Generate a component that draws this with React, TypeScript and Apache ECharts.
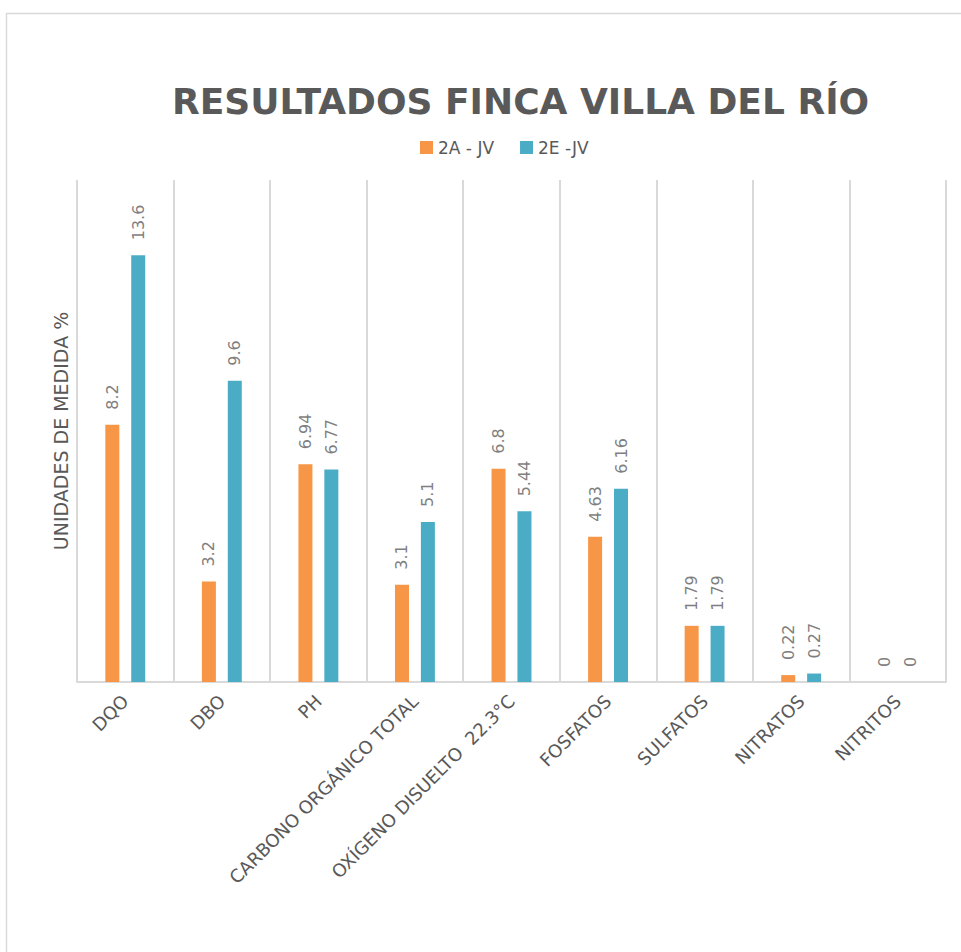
import React, { useEffect, useRef } from "react";
import * as echarts from "echarts";

const categories = [
  "DQO",
  "DBO",
  "PH",
  "CARBONO ORGÁNICO TOTAL",
  "OXÍGENO DISUELTO  22.3°C",
  "FOSFATOS",
  "SULFATOS",
  "NITRATOS",
  "NITRITOS",
];
const series2A = [8.2, 3.2, 6.94, 3.1, 6.8, 4.63, 1.79, 0.22, 0];
const series2E = [13.6, 9.6, 6.77, 5.1, 5.44, 6.16, 1.79, 0.27, 0];
const seriesNames = ["2A - JV", "2E -JV"];
const titleText = "RESULTADOS FINCA VILLA DEL RÍO";
const yAxisName = "UNIDADES DE MEDIDA %";

export default function App() {
  const ref = useRef<HTMLDivElement>(null);
  useEffect(() => {
    if (!ref.current) return;
    const chart = echarts.init(ref.current, null, { renderer: "svg" });
    const labelCfg = {
      show: true,
      position: "top",
      rotate: 90,
      align: "left",
      verticalAlign: "middle",
      distance: 15,
      color: "#7f7f7f",
      fontSize: 16,
      fontFamily: "DejaVu Sans",
    };
    chart.setOption({
      animation: false,
      backgroundColor: "#ffffff",
      title: {
        text: titleText,
        left: 167,
        top: 78,
        textStyle: {
          fontFamily: "DejaVu Sans",
          fontWeight: "bold",
          fontSize: 36,
          color: "#595959",
        },
      },
      legend: {
        data: seriesNames,
        left: 415,
        top: 134,
        itemWidth: 13,
        itemHeight: 13,
        itemGap: 26,
        icon: "rect",
        textStyle: { fontFamily: "DejaVu Sans", fontSize: 17, color: "#595959" },
      },
      graphic: [
        {
          type: "rect",
          shape: { x: 6.5, y: 13.5, width: 1000, height: 1000 },
          style: { fill: "none", stroke: "#d9d9d9", lineWidth: 1.5 },
          silent: true,
          z: -1,
        },
      ],
      grid: { left: 77, right: 15, top: 180, bottom: 270 },
      xAxis: {
        type: "category",
        data: categories,
        axisTick: { show: false },
        axisLine: { lineStyle: { color: "#d9d9d9", width: 2 } },
        splitLine: { show: true, lineStyle: { color: "#d9d9d9", width: 2 } },
        axisLabel: {
          rotate: 45,
          interval: 0,
          margin: 16,
          fontFamily: "DejaVu Sans",
          fontSize: 18,
          color: "#595959",
        },
      },
      yAxis: {
        type: "value",
        min: 0,
        max: 16,
        axisLabel: { show: false },
        axisLine: { show: false },
        axisTick: { show: false },
        splitLine: { show: false },
        name: yAxisName,
        nameLocation: "middle",
        nameRotate: 90,
        nameGap: 7,
        nameTextStyle: { fontFamily: "DejaVu Sans", fontSize: 19, color: "#595959" },
      },
      series: [
        {
          name: seriesNames[0],
          type: "bar",
          data: series2A,
          barWidth: 14,
          barGap: "85%",
          itemStyle: { color: "#F79646" },
          label: labelCfg,
        },
        {
          name: seriesNames[1],
          type: "bar",
          data: series2E,
          barWidth: 14,
          itemStyle: { color: "#4BACC6" },
          label: labelCfg,
        },
      ],
    });
    return () => chart.dispose();
  }, []);
  return (
    <div
      ref={ref}
      style={{ position: "fixed", left: 0, top: 0, width: 961, height: 952 }}
    />
  );
}
